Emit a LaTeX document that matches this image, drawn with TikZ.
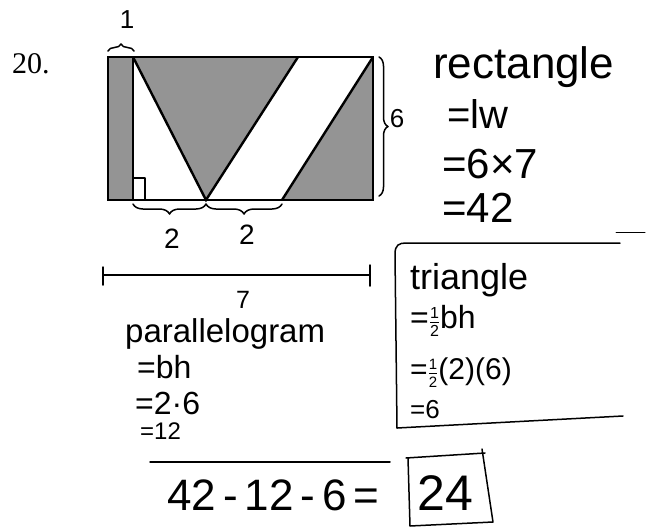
\documentclass[tikz,border=0pt]{standalone}
\usepackage{fontspec}
\setmainfont{Liberation Sans}
\newfontfamily\printfont{Liberation Serif}
\usetikzlibrary{decorations.pathreplacing}
\newcommand{\handhalf}[1]{$\frac{\hbox{\fontsize{#1}{#1}\selectfont 1}}{\hbox{\fontsize{#1}{#1}\selectfont 2}}$}
\newcommand{\hgap}{\hspace{7pt}}
\tikzset{
  shadefill/.style={fill=black!42,draw=none},
  outline/.style={draw=black,line width=2.8pt,line join=miter},
  diagline/.style={draw=black,line width=2.4pt},
  handline/.style={draw=black,line width=1.5pt,line cap=round,line join=round},
  handbrace/.style={handline,decorate,decoration={brace,amplitude=#1}},
  handtext/.style={inner sep=0pt,anchor=base west,font=\fontsize{#1}{#1}\selectfont},
  handlabel/.style={inner sep=0pt,font=\fontsize{#1}{#1}\selectfont},
}

\begin{document}
\begin{tikzpicture}[x=1pt,y=-1pt]
  \useasboundingbox (0,0) rectangle (646,528);
  % figure corners
  \coordinate (rnw) at (108,57);
  \coordinate (rne) at (373,57);
  \coordinate (rse) at (373,200);
  \coordinate (rsw) at (108,200);
  \coordinate (snw) at (133,57);
  \coordinate (ssw) at (133,200);
  \coordinate (ttop) at (298,57);
  \coordinate (tapex) at (206,200);
  \coordinate (pse) at (282,200);
  % shaded parts
  \fill[shadefill] (rnw) rectangle (ssw);
  \fill[shadefill] (snw) -- (ttop) -- (tapex) -- cycle;
  \fill[shadefill] (pse) -- (rse) -- (rne) -- cycle;
  % outlines
  \draw[outline] (rnw) rectangle (rse);
  \draw[diagline] (snw) -- (ssw);
  \draw[diagline] (snw) -- (tapex) -- (ttop);
  \draw[diagline] (pse) -- (rne);
  \draw[handline,line width=1.2pt] (133,178) -- (145,178) -- (145,200);
  % braces
  \draw[handbrace=7] (108,51) -- (134,51);
  \draw[handbrace=10] (206,204) -- (133,204);
  \draw[handbrace=10] (282,204) -- (206,204);
  \draw[handbrace=9] (379,57) -- (379,196);
  \node[handlabel=26] (lone) at (127,20) {1};
  \node[handlabel=26] (lsix) at (397,119) {6};
  \node[handlabel=28] (ltwoa) at (172,239) {2};
  \node[handlabel=28] (ltwob) at (247,235) {2};
  % seven line
  \coordinate (sevl) at (103,275);
  \coordinate (sevr) at (370,275);
  \draw[handline] (sevl) -- (sevr);
  \draw[handline] (103,267) -- (103,285);
  \draw[handline] (370,265) -- (370,286);
  \node[handlabel=25] (lseven) at (243,300) {7};
  % problem number
  \node[inner sep=0pt,anchor=base west,font=\printfont\fontsize{30}{30}\selectfont] (num) at (12,73) {20.};
  % rectangle work
  \node[handtext=44] (rtitle) at (433,78) {rectangle};
  \node[handtext=40] (rlw) at (447,128) {=lw};
  \node[handtext=42] (rsix) at (442,178) {=6×7};
  \node[handtext=42] (rres) at (442,222) {=42};
  \draw[handline,line width=1pt] (616,232) -- (645,232);
  % parallelogram work
  \node[handtext=33] (ptitle) at (125,342) {parallelogram};
  \node[handtext=32] (pbh) at (137,378) {=bh};
  \node[handtext=32] (pmul) at (135,414) {=2·6};
  \node[handtext=24] (pres) at (140,439) {=12};
  % triangle work
  \draw[handline] (397,428) -- (395,254) .. controls (395,245) and (399,243) .. (406,243) -- (620,243);
  \draw[handline] (397,428) -- (623,416);
  \node[handtext=36] (ttitle) at (410,289) {triangle};
  \node[handtext=32] (tbh) at (410,328) {=\handhalf{16}bh};
  \node[handtext=30] (tsub) at (410,379) {=\handhalf{15}(2)(6)};
  \node[handtext=26] (tres) at (410,418) {=6};
  % total
  \draw[handline] (150,462) -- (390,462);
  \node[handtext=44] (total) at (167,510) {42\hgap-\hgap12\hgap-\hgap6\hgap=};
  \node[handtext=50] (answer) at (417,510) {24};
  \draw[handline] (406,458) -- (485,453);
  \draw[handline] (408,458) -- (410,526) -- (493,522) -- (482,449);
\end{tikzpicture}
\end{document}
